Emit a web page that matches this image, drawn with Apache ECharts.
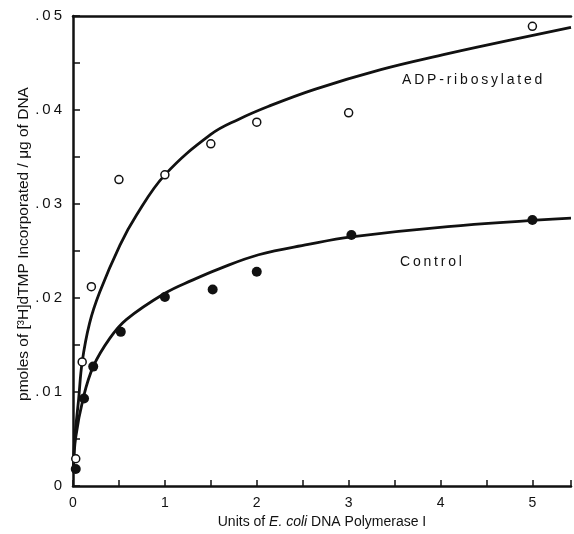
<!DOCTYPE html>
<html>
<head>
<meta charset="utf-8">
<script src="https://cdn.jsdelivr.net/npm/echarts@6/dist/echarts.min.js"></script>
<style>html,body{margin:0;padding:0;background:#fff}#c{width:574px;height:534px}</style>
</head>
<body>
<div id="c"></div>
<script>
// Measured points (open circles = ADP-ribosylated, filled = Control)
const adpX = [0.03, 0.1, 0.2, 0.5, 1.0, 1.5, 2.0, 3.0, 5.0];
const adpY = [0.0029, 0.0132, 0.0212, 0.0326, 0.0331, 0.0364, 0.0387, 0.0397, 0.0489];
const ctrlX = [0.03, 0.12, 0.22, 0.52, 1.0, 1.52, 2.0, 3.03, 5.0];
const ctrlY = [0.0018, 0.0093, 0.0127, 0.0164, 0.0201, 0.0209, 0.0228, 0.0267, 0.0283];
// Fitted curves
const adpCurveX = [0.005, 0.02, 0.06, 0.1, 0.18, 0.29, 0.51, 0.69, 1.0, 1.5, 1.8, 2.13, 2.63, 3.35, 4.08, 4.4, 5.42];
const adpCurveY = [0.002, 0.0052, 0.0091, 0.0132, 0.0173, 0.0206, 0.0256, 0.0288, 0.0331, 0.0374, 0.039, 0.0404, 0.0422, 0.0443, 0.046, 0.0467, 0.0488];
const ctrlCurveX = [0.005, 0.03, 0.11, 0.22, 0.4, 0.58, 1.0, 1.3, 1.59, 2.02, 2.56, 3.03, 4.08, 5.42];
const ctrlCurveY = [0.002, 0.0052, 0.0093, 0.0127, 0.0157, 0.0177, 0.0205, 0.0219, 0.0231, 0.0246, 0.0257, 0.0265, 0.0276, 0.0285];
// Tick labels
const yTickValues = [0, 0.01, 0.02, 0.03, 0.04, 0.05];
const yTickLabels = ['0', '.\u20090\u20091', '.\u20090\u20092', '.\u20090\u20093', '.\u20090\u20094', '.\u20090\u20095'];
const xTickLabels = ['0', '1', '2', '3', '4', '5'];

const zip = (xs, ys) => xs.map((x, i) => [x, ys[i]]);
const ink = '#111';
const chart = echarts.init(document.getElementById('c'), null, {renderer: 'canvas'});
chart.setOption({
  animation: false,
  backgroundColor: '#fff',
  grid: {left: 73, right: 0, top: 16, bottom: 48, containLabel: false},
  xAxis: [{
    type: 'value', min: 0, max: 5.42, interval: 0.5,
    axisLine: {show: true, lineStyle: {color: ink, width: 2.5}},
    axisTick: {show: true, inside: true, length: 6, lineStyle: {color: ink, width: 1.5}},
    splitLine: {show: false},
    axisLabel: {
      margin: 10, color: ink, fontSize: 14, fontFamily: 'Liberation Sans',
      formatter: v => { const i = Math.round(v); return Math.abs(v - i) < 1e-6 && i < xTickLabels.length ? xTickLabels[i] : ''; }
    },
    name: '{a|Units of }{i|E. coli}{a| DNA Polymerase I}',
    nameLocation: 'middle', nameGap: 29, nameMoveOverlap: false,
    nameTextStyle: {rich: {
      a: {fontSize: 14, fontFamily: 'Liberation Sans', color: ink},
      i: {fontSize: 14, fontFamily: 'Liberation Sans', fontStyle: 'italic', color: ink}
    }}
  }, {
    type: 'value', position: 'top', min: 0, max: 5.42,
    axisLine: {show: true, onZero: false, lineStyle: {color: ink, width: 2.5}},
    axisTick: {show: false}, axisLabel: {show: false}, splitLine: {show: false}
  }],
  yAxis: {
    type: 'value', min: 0, max: 0.05, interval: 0.005,
    axisLine: {show: true, lineStyle: {color: ink, width: 2.5}},
    axisTick: {show: true, inside: true, length: 7, lineStyle: {color: ink, width: 1.5}},
    splitLine: {show: false},
    axisLabel: {
      margin: 11, color: ink, fontSize: 15, fontFamily: 'Liberation Sans',
      formatter: v => { const i = yTickValues.findIndex(t => Math.abs(t - v) < 1e-9); return i >= 0 ? yTickLabels[i] : ''; }
    },
    name: 'pmoles of [³H]dTMP Incorporated / μg of DNA',
    nameLocation: 'middle', nameGap: 41, nameMoveOverlap: false,
    nameTextStyle: {fontSize: 15.5, fontFamily: 'Liberation Sans', color: ink, padding: [0, 0, 0, 14]}
  },
  series: [
    {type: 'line', data: zip(adpCurveX, adpCurveY), smooth: 0.4, showSymbol: false,
     lineStyle: {color: ink, width: 2.8}, z: 2},
    {type: 'line', data: zip(ctrlCurveX, ctrlCurveY), smooth: 0.4, showSymbol: false,
     lineStyle: {color: ink, width: 2.8}, z: 2},
    {type: 'scatter', data: zip(adpX, adpY), symbol: 'circle', symbolSize: 8,
     itemStyle: {color: '#fff', borderColor: ink, borderWidth: 1.5, opacity: 1}, z: 3},
    {type: 'scatter', data: zip(ctrlX, ctrlY), symbol: 'circle', symbolSize: 10,
     itemStyle: {color: ink, opacity: 1}, z: 3}
  ],
  graphic: [
    {type: 'text', left: 402, top: 73, style: {text: 'A\u2009D\u2009P\u2009-\u2009r\u2009i\u2009b\u2009o\u2009s\u2009y\u2009l\u2009a\u2009t\u2009e\u2009d', font: '14px "Liberation Sans"', fill: ink}},
    {type: 'text', left: 400, top: 255, style: {text: 'C\u2009o\u2009n\u2009t\u2009r\u2009o\u2009l', font: '14px "Liberation Sans"', fill: ink}}
  ]
});
</script>
</body>
</html>
